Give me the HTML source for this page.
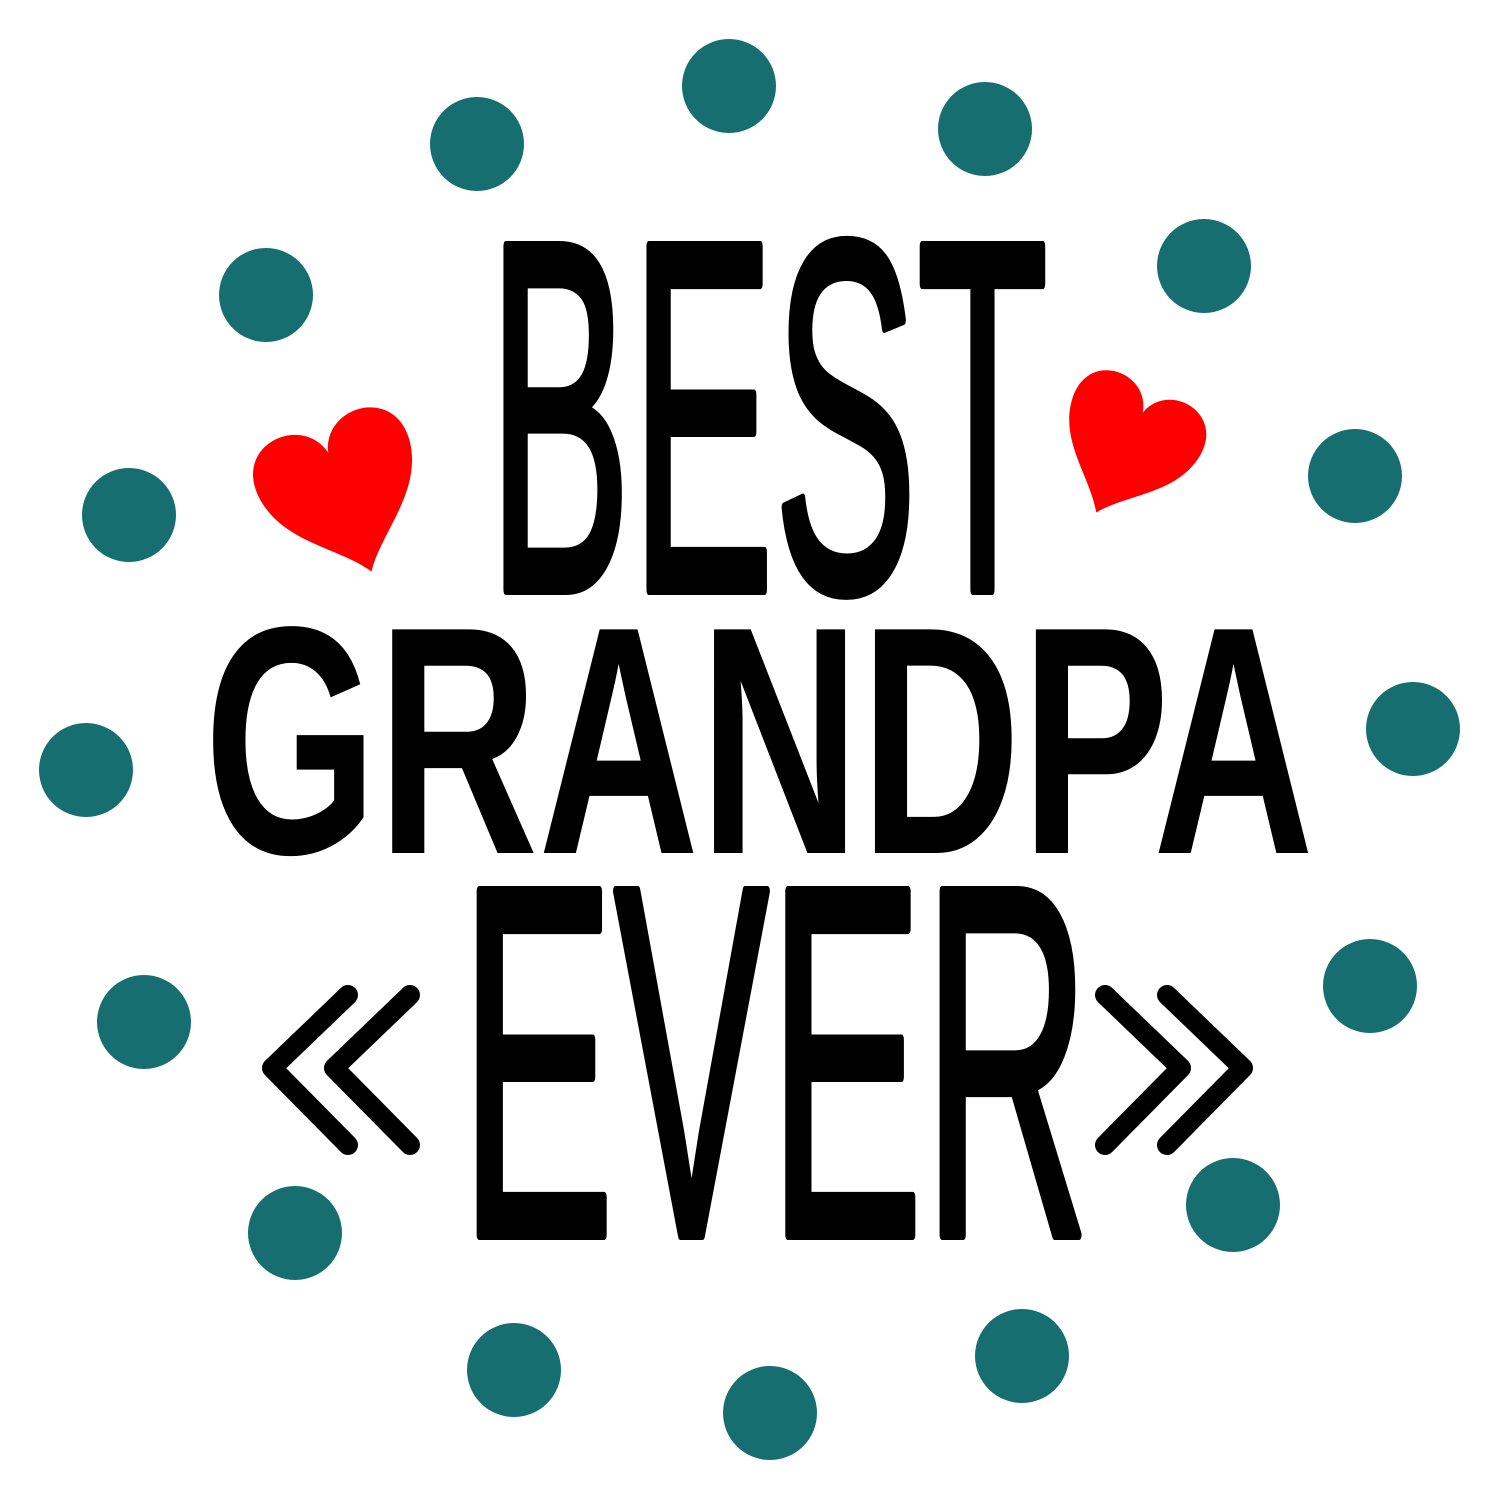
<!DOCTYPE html>
<html><head><meta charset="utf-8"><style>
html,body{margin:0;padding:0;background:#fff;}
svg{display:block;}
</style></head><body>
<svg width="1500" height="1500" viewBox="0 0 1500 1500" xmlns="http://www.w3.org/2000/svg">
<g fill="#166e70">
<circle cx="729" cy="86" r="47"/><circle cx="477" cy="144" r="47"/><circle cx="985" cy="129" r="47"/>
<circle cx="266" cy="295" r="47"/><circle cx="1204" cy="266" r="47"/><circle cx="129" cy="515" r="47"/>
<circle cx="1355" cy="476" r="47"/><circle cx="86" cy="770" r="47"/><circle cx="1413" cy="729" r="47"/>
<circle cx="144" cy="1022" r="47"/><circle cx="1370" cy="986" r="47"/><circle cx="295" cy="1233" r="47"/>
<circle cx="1233" cy="1205" r="47"/><circle cx="514" cy="1370" r="47"/><circle cx="1022" cy="1356" r="47"/>
<circle cx="770" cy="1413" r="47"/>
</g>
<g fill="#ff0000">
<path d="M0,-30 C-10,-70 -75,-65 -70,-15 C-65,30 -20,50 0,80 C20,50 65,30 70,-15 C75,-65 10,-70 0,-30 Z" transform="translate(340,485) rotate(-20) scale(1.15)"/>
<path d="M0,-30 C-10,-70 -75,-65 -70,-15 C-65,30 -20,50 0,80 C20,50 65,30 70,-15 C75,-65 10,-70 0,-30 Z" transform="translate(1130,440) rotate(25) scale(1.0)"/>
</g>
<g font-family="'Liberation Sans Narrow','Liberation Sans',sans-serif" fill="#000">
<text x="204" y="853" font-size="325" font-weight="bold" textLength="1110" lengthAdjust="spacingAndGlyphs">GRANDPA</text>
<text x="488" y="590" font-size="500" textLength="560" lengthAdjust="spacingAndGlyphs" stroke="#000" stroke-width="10" stroke-linejoin="round">BEST</text>
<text x="460" y="1235" font-size="500" textLength="630" lengthAdjust="spacingAndGlyphs" stroke="#000" stroke-width="10" stroke-linejoin="round">EVER</text>
</g>
<g fill="none" stroke="#000" stroke-width="20" stroke-linecap="round" stroke-linejoin="round">
<polyline points="348,995 272,1068 348,1145"/>
<polyline points="410,995 334,1068 410,1145"/>
<polyline points="1105,995 1181,1068 1105,1145"/>
<polyline points="1167,995 1243,1068 1167,1145"/>
</g>
</svg>
</body></html>
